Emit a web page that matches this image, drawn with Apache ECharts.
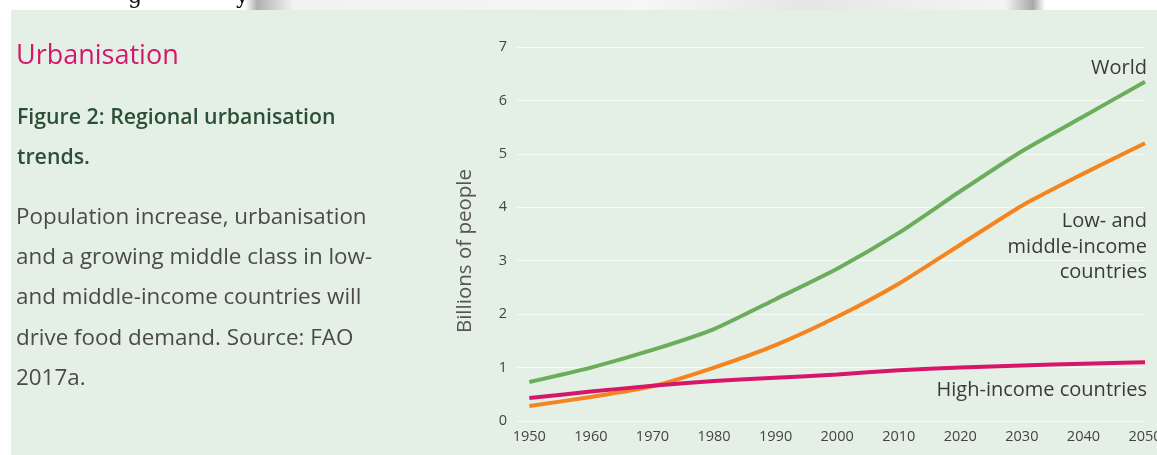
<!DOCTYPE html>
<html>
<head>
<meta charset="utf-8">
<script src="https://cdn.jsdelivr.net/npm/echarts@6/dist/echarts.min.js"></script>
<style>
html,body{margin:0;padding:0;background:#fff;}
#chart{width:1157px;height:455px;}
</style>
</head>
<body>
<div id="chart"></div>
<script>
const years = [1950,1960,1970,1980,1990,2000,2010,2020,2030,2040,2050];
const world = [0.73,1.00,1.33,1.72,2.28,2.85,3.52,4.30,5.05,5.70,6.35];
const lowMiddle = [0.28,0.45,0.65,1.00,1.42,1.95,2.57,3.30,4.03,4.63,5.20];
const highIncome = [0.43,0.55,0.66,0.75,0.81,0.87,0.95,1.00,1.04,1.07,1.10];
const yTicks = [0,1,2,3,4,5,6,7];

const FONT = '"Open Sans"';
const chart = echarts.init(document.getElementById('chart'), null, {renderer:'canvas'});
const pair = a => years.map((y,i)=>[y,a[i]]);
const txt = (x, y, text, font, fill, align, lh) => ({
  type:'text', style:{x:x, y:y, text:text, font:font, fill:fill, align:align||'left', verticalAlign:'middle', lineHeight:lh}
});

const option = {
  backgroundColor: '#ffffff',
  animation: false,
  textStyle: {fontFamily: FONT},
  grid: {left: 517, right: 12, top: 47, bottom: 34, outerBoundsMode: 'none', containLabel: false},
  xAxis: {
    type: 'value', min: 1948, max: 2050,
    axisLine: {show: false}, axisTick: {show: false}, splitLine: {show: false},
    axisLabel: {customValues: years, color: '#444', fontSize: 14.5, margin: 8, fontFamily: FONT,
      hideOverlap: false, formatter: v => String(v)}
  },
  yAxis: {
    type: 'value', min: 0, max: 7, interval: 1,
    axisLine: {show: false}, axisTick: {show: false},
    axisLabel: {color: '#444', fontSize: 14.5, margin: 10, fontFamily: FONT,
      formatter: v => yTicks.includes(v) ? String(v) : ''},
    splitLine: {lineStyle: {color: '#f7fbf7', width: 1}}
  },
  series: [
    {name:'World', type:'line', data: pair(world), showSymbol:false, smooth:0.2,
     lineStyle:{color:'#6aae5b', width:4}, itemStyle:{color:'#6aae5b'}, z:3},
    {name:'Low- and middle-income countries', type:'line', data: pair(lowMiddle), showSymbol:false, smooth:0.2,
     lineStyle:{color:'#f5841f', width:4}, itemStyle:{color:'#f5841f'}, z:4},
    {name:'High-income countries', type:'line', data: pair(highIncome), showSymbol:false, smooth:0.2,
     lineStyle:{color:'#d6156b', width:4}, itemStyle:{color:'#d6156b'}, z:5}
  ],
  graphic: [
    {type:'rect', z:-10, shape:{x:11, y:10, width:1146, height:445}, style:{fill:'#e4efe5'}, silent:true},
    {type:'rect', z:-9, shape:{x:245, y:0, width:800, height:10},
     style:{fill:{type:'linear', x:0, y:0, x2:1, y2:0, colorStops:[
       {offset:0, color:'#ffffff'},{offset:0.015,color:'#b0b0b0'},{offset:0.06,color:'#f2f2f2'},
       {offset:0.5,color:'#f6f6f6'},{offset:0.7,color:'#e6e6e6'},{offset:0.95,color:'#f4f4f4'},{offset:0.985,color:'#a8a8a8'},{offset:1,color:'#ffffff'}]}}, silent:true},
    {type:'text', z:-8, left:128, top:-14, style:{text:'g', font:'22px "DejaVu Serif"', fill:'#111'}},
    {type:'text', z:-8, left:236, top:-14, style:{text:'y', font:'22px "DejaVu Serif"', fill:'#111'}},
    txt(16, 56, 'Urbanisation', '27px "Open Sans"', '#d4176b'),
    txt(17, 138, 'Figure 2: Regional urbanisation\ntrends.', '600 21.3px "Open Sans"', '#2b5035', 'left', 40),
    txt(16, 298, 'Population increase, urbanisation\nand a growing middle class in low-\nand middle-income countries will\ndrive food demand. Source: FAO\n2017a.', '22.4px "Open Sans"', '#4a4a4a', 'left', 40.25),
    {type:'text', x:465, y:251, rotation:Math.PI/2,
     style:{text:'Billions of people', font:'20.5px "Open Sans"', fill:'#555', align:'center', verticalAlign:'middle'}},
    txt(1147, 68, 'World', '20px "Open Sans"', '#3a3a3a', 'right'),
    txt(1147, 247, 'Low- and\nmiddle-income\ncountries', '20px "Open Sans"', '#3a3a3a', 'right', 25.5),
    txt(1147, 390, 'High-income countries', '20px "Open Sans"', '#3a3a3a', 'right')
  ]
};
chart.setOption(option);
</script>
</body>
</html>
